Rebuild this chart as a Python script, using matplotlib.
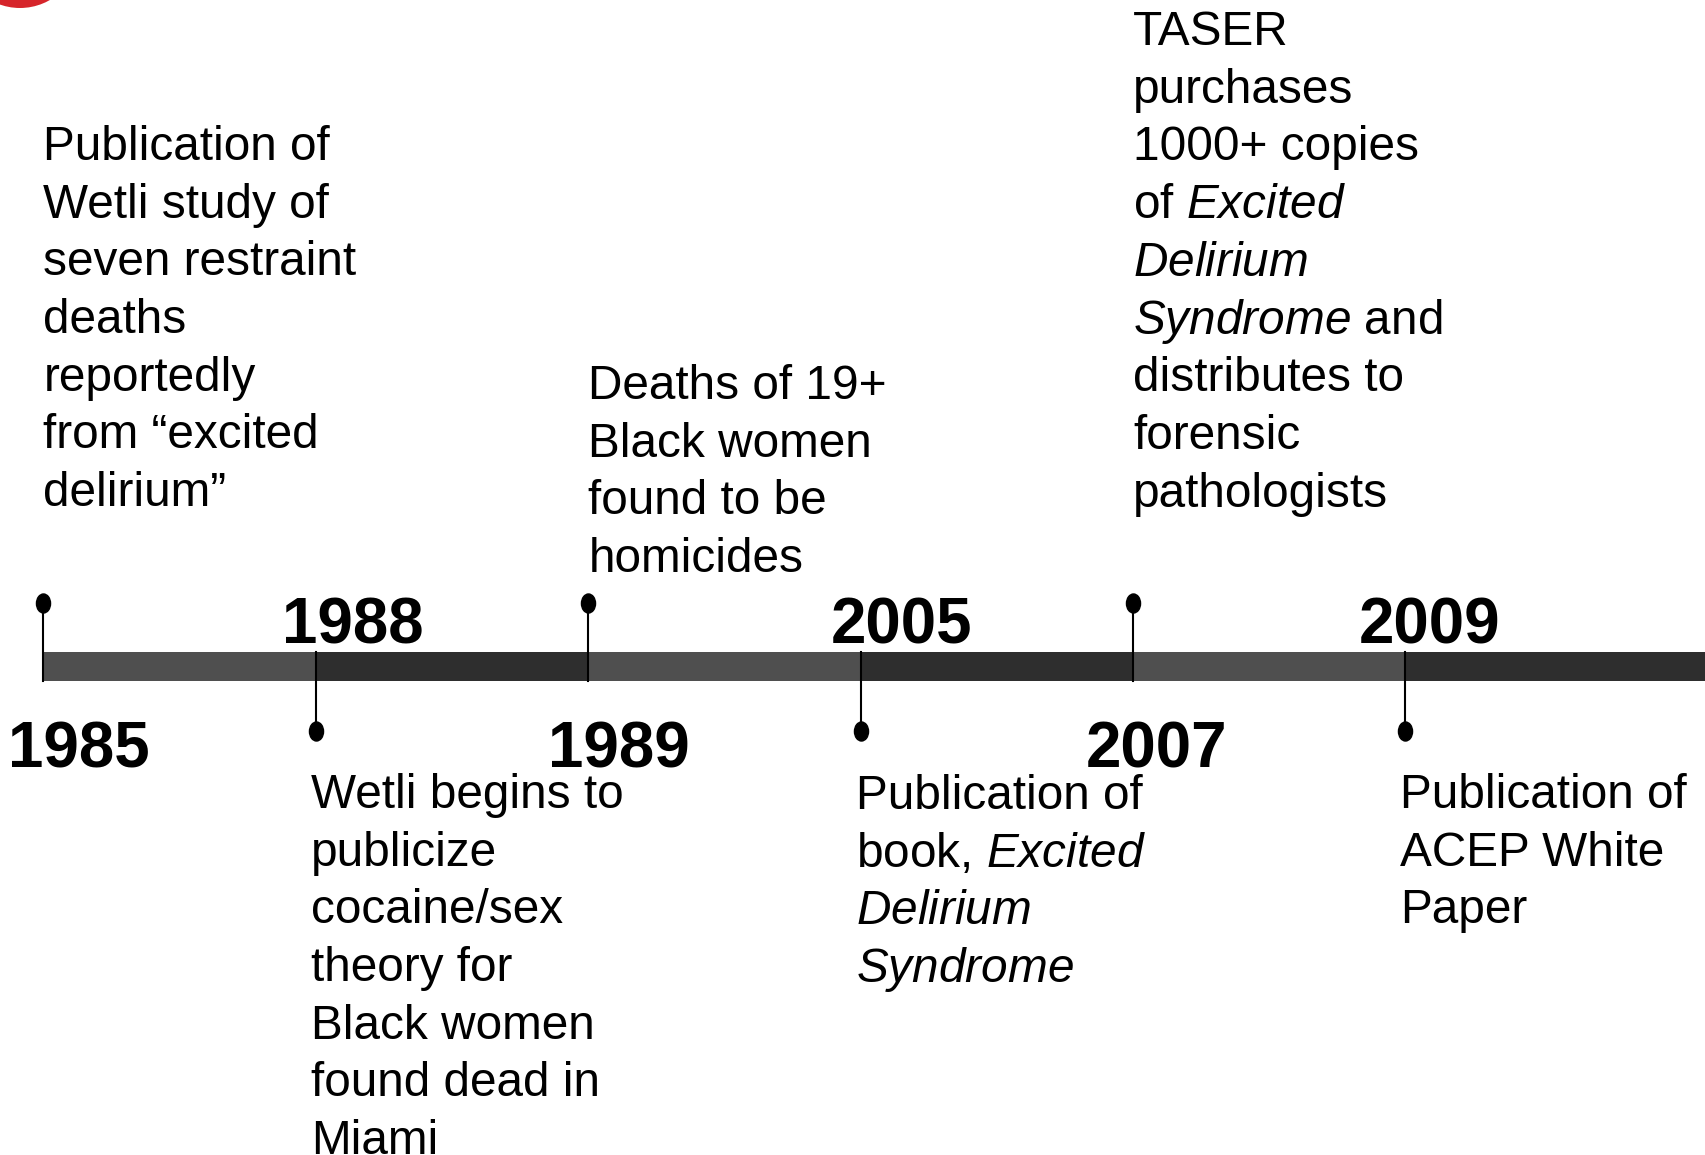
import numpy as np
import matplotlib.pyplot as plt
from matplotlib.path import Path
from matplotlib.patches import Ellipse
from matplotlib.transforms import Affine2D

plt.rcParams['mathtext.fontset'] = 'custom'
plt.rcParams['mathtext.rm'] = 'Liberation Sans'
plt.rcParams['mathtext.it'] = 'Liberation Sans:italic'

# data
years = ['1985', '1988', '1989', '2005', '2007', '2009']
above = [True, False, True, False, True, False]   # description above the bar
descriptions = [
    ['Publication of', 'Wetli study of', 'seven restraint', 'deaths',
     'reportedly', 'from \u201cexcited', 'delirium\u201d'],
    ['Wetli begins to', 'publicize', 'cocaine/sex', 'theory for',
     'Black women', 'found dead in', 'Miami'],
    ['Deaths of 19+', 'Black women', 'found to be', 'homicides'],
    ['Publication of', 'book, $\\mathit{Excited}$', '$\\mathit{Delirium}$',
     '$\\mathit{Syndrome}$'],
    ['TASER', 'purchases', '1000+ copies', 'of $\\mathit{Excited}$',
     '$\\mathit{Delirium}$', '$\\mathit{Syndrome}$ and', 'distributes to',
     'forensic', 'pathologists'],
    ['Publication of', 'ACEP White', 'Paper'],
]

# layout (pixels, figure is 1706 x 1155 at dpi 100)
W, H = 1706, 1155
STEP = 272.4
X0 = 43.5
BAR_TOP, BAR_BOT = 652, 681
DOT_UP, DOT_DOWN = 603, 731
LINE = 57.7
first_baseline = [160, 808, 399, 809, 45, 808]
year_shift = [35, 37, 31, 41, 23, 24]
colors = ['#4f4f4f', '#2e2e2e']

fig = plt.figure(figsize=(W / 100, H / 100), dpi=100)
ax = fig.add_axes([0, 0, 1, 1])
ax.set_xlim(-X0 / STEP, (W - X0) / STEP)
ax.set_ylim(H, 0)
ax.axis('off')

# red circle peeking in at the top-left corner
fig.add_artist(Ellipse((20 / W, 1 + 52 / H), 120 / W, 120 / H,
                       transform=fig.transFigure, color='#d6252b', lw=0))

n = len(years)
x = np.arange(n)
right = ax.get_xlim()[1] + 0.1
for i in range(n):
    x_end = x[i + 1] if i + 1 < n else right
    ax.fill_between([x[i], x_end], BAR_TOP, BAR_BOT, color=colors[i % 2],
                    linewidth=0, zorder=2)

dot = Path.unit_circle().transformed(Affine2D().scale(0.74, 1))
for i in range(n):
    if above[i]:
        ax.plot([x[i], x[i]], [DOT_UP, BAR_BOT], color='black', lw=1.5, zorder=3)
        ax.plot(x[i], DOT_UP, marker=dot, ms=13.7, color='black', zorder=4)
        yb = 767
        dx = 0
    else:
        ax.plot([x[i], x[i]], [BAR_TOP, DOT_DOWN], color='black', lw=1.5, zorder=3)
        ax.plot(x[i], DOT_DOWN, marker=dot, ms=13.7, color='black', zorder=4)
        yb = 643
        dx = -5
    ax.text(x[i] + year_shift[i] / STEP, yb, years[i], ha='center', va='baseline',
            fontsize=45.8, fontweight='bold', family='Liberation Sans', color='black')

    for k, line in enumerate(descriptions[i]):
        ax.text(x[i] + dx / STEP, first_baseline[i] + k * LINE, line,
                ha='left', va='baseline', fontsize=34.4, family='Liberation Sans',
                color='black')

fig.savefig('out.png', dpi=100)
